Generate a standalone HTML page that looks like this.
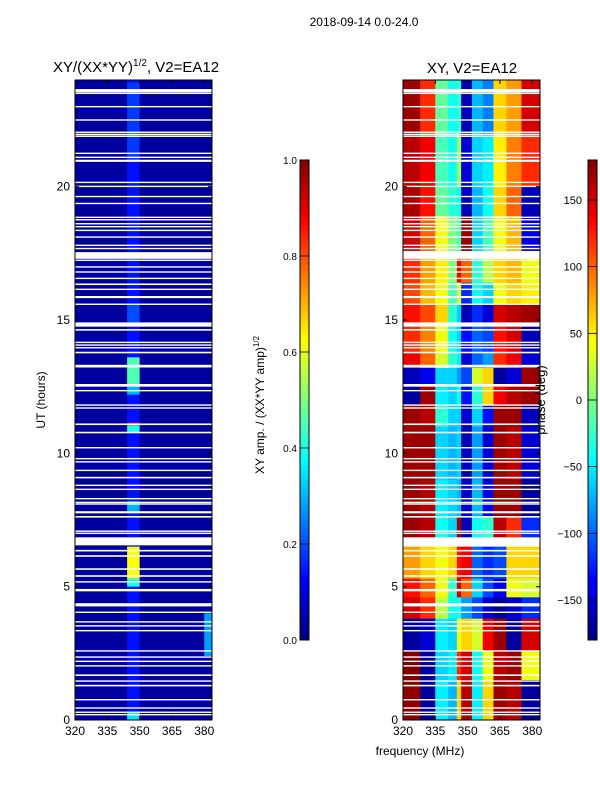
<!DOCTYPE html>
<html><head><meta charset="utf-8"><style>
body{margin:0;background:#fff;}
svg{display:block;font-family:"Liberation Sans",sans-serif;}
</style></head><body>
<svg id="chart" width="600" height="800"></svg>
<script>
// ---- data ----
const freqEdges=[320,328,335,341,345,347,352,357,362,368,375,383.6];
const ampSegments=[[0,24,0.14],[12.6,13.6,0.45],[12.2,12.6,0.3],[11.05,11.15,0.85],[10.8,11.05,0.4],[7.8,8.2,0.3],[5.3,6.5,0.62],[5.0,5.3,0.4],[0,0.3,0.35],[14.8,15.6,0.2],[21,23.9,0.18]];
const ampEdgeSegments=[[2.4,4.0,0.28]];
const ampBase=0.03;
const phaseSegments=[
[21.9,24,[170,120,-10,-40,-30,-160,-70,-90,60,80,150]],
[20.0,21.9,[160,140,-20,-40,10,-150,-60,-50,50,90,120]],
[18.9,20.0,[165,130,-10,-30,-40,-160,-70,-40,60,100,-160]],
[17.6,18.9,[150,100,40,0,-20,170,-60,-20,40,70,-140]],
[16.4,17.3,[120,80,50,0,140,100,-30,20,60,70,40]],
[15.6,16.4,[110,70,40,-20,30,-120,-40,-60,40,60,50]],
[14.8,15.6,[130,110,60,-30,-60,-160,-120,-150,150,160,170]],
[13.8,14.8,[120,90,40,-40,-60,-130,-100,-110,130,150,-160]],
[13.2,13.8,[140,100,30,-30,-50,-150,-100,-80,120,140,-150]],
[12.6,13.2,[-160,-140,-60,-60,-80,-110,30,60,-170,-150,170]],
[11.8,12.6,[-170,170,-50,-60,-40,-130,-30,60,140,160,170]],
[11.0,11.8,[170,160,-30,-60,-60,-150,-60,-130,170,170,-160]],
[9.0,11.0,[170,170,-60,-70,-60,-160,-80,-150,170,160,-150]],
[7.6,9.0,[170,160,-50,-60,-70,-150,-70,-140,170,170,-170]],
[6.8,7.6,[170,160,-40,-60,170,-160,-40,-30,160,120,-120]],
[5.3,6.5,[80,60,40,60,130,140,-100,-120,-110,60,60]],
[4.6,5.3,[130,100,40,-30,150,100,-60,-110,-140,40,30]],
[3.8,4.6,[150,120,20,-40,-40,-80,-110,-150,-170,-150,-120]],
[2.6,3.8,[-170,-150,-50,-60,40,60,30,140,170,-170,150]],
[1.5,2.6,[180,-170,-60,-50,120,150,-40,40,160,170,40]],
[0,1.5,[175,-170,-50,-70,60,160,-50,60,170,160,-170]]
];
const gaps=[[23.6,0.12],[23.5,0.05],[23.0,0.05],[22.5,0.05],[22.04,0.05],[21.96,0.05],[21.89,0.05],[21.25,0.05],[21.1,0.05],[20.97,0.08],[20.16,0.05],[20.01,0.05],[19.63,0.05],[19.37,0.05],[18.85,0.05],[18.76,0.05],[18.61,0.05],[18.5,0.05],[18.36,0.05],[18.11,0.05],[17.8,0.05],[17.68,0.05],[17.42,0.25],[17.24,0.05],[16.99,0.05],[16.8,0.05],[16.56,0.05],[16.34,0.06],[16.15,0.05],[15.86,0.08],[15.59,0.05],[14.83,0.16],[14.63,0.06],[14.16,0.05],[14.06,0.05],[13.96,0.05],[13.78,0.06],[13.27,0.1],[12.55,0.1],[12.35,0.05],[11.81,0.05],[11.7,0.05],[11.09,0.06],[10.78,0.06],[10.21,0.05],[9.8,0.05],[9.68,0.05],[9.36,0.05],[9.09,0.06],[8.8,0.05],[8.65,0.05],[8.3,0.05],[8.16,0.05],[8.1,0.05],[7.79,0.08],[7.62,0.06],[7.08,0.05],[7.0,0.05],[6.7,0.3],[6.35,0.06],[6.15,0.06],[5.66,0.06],[5.4,0.06],[5.18,0.05],[4.87,0.09],[4.32,0.12],[4.04,0.05],[3.68,0.05],[3.53,0.05],[3.35,0.05],[2.59,0.05],[2.36,0.05],[2.2,0.05],[2.03,0.05],[1.68,0.06],[1.46,0.05],[1.29,0.06],[0.76,0.05],[0.45,0.05],[0.29,0.05],[0.2,0.05]];
const yTicks=[0,5,10,15,20];
const xTicks=[320,335,350,365,380];
const ampTicks=[0.0,0.2,0.4,0.6,0.8,1.0];
const phaseTicks=[-150,-100,-50,0,50,100,150];

// ---- helpers ----
const NS="http://www.w3.org/2000/svg";
const svg=document.getElementById('chart');
function mk(tag,attrs,parent){const e=document.createElementNS(NS,tag);for(const k in attrs)e.setAttribute(k,attrs[k]);(parent||svg).appendChild(e);return e;}
function cl(v){return Math.max(0,Math.min(1,v));}
function jet(x){const r=cl(1.5-Math.abs(4*x-3)),g=cl(1.5-Math.abs(4*x-2)),b=cl(1.5-Math.abs(4*x-1));return `rgb(${Math.round(r*255)},${Math.round(g*255)},${Math.round(b*255)})`;}
const T=80,B=720,H=B-T;
function yH(h){return B-h/24*H;}
function xF(f,x0){return x0+(f-320)/(383.6-320)*137;}
const panels=[{x0:75,name:'amplitude-panel'},{x0:403,name:'phase-panel'}];

// left panel amplitude
{const g=mk('g',{});
const x0=75;
const bg=mk('rect',{x:x0,y:T,width:137,height:H,fill:jet(ampBase)},g);

ampSegments.forEach(s=>{const r=mk('rect',{x:xF(344.2,x0),y:yH(s[1]),width:xF(350,x0)-xF(344.2,x0),height:yH(s[0])-yH(s[1]),fill:jet(s[2])},g);
});
ampEdgeSegments.forEach(s=>{const r=mk('rect',{x:xF(380,x0),y:yH(s[1]),width:xF(383.6,x0)-xF(380,x0),height:yH(s[0])-yH(s[1]),fill:jet(s[2])},g);
});}

// right panel phase
{const g=mk('g',{});
const x0=403;
phaseSegments.forEach(s=>{for(let i=0;i<freqEdges.length-1;i++){const xa=xF(freqEdges[i],x0),xb=xF(freqEdges[i+1],x0);
const r=mk('rect',{x:xa,y:yH(s[1]),width:xb-xa+0.3,height:yH(s[0])-yH(s[1])+0.3,fill:jet((s[2][i]+180)/360)},g);
}});}

// gaps, frames, ticks
panels.forEach(p=>{
 gaps.forEach(gp=>{const h=Math.max(gp[1]/24*H,1.4);const r=mk('rect',{x:p.x0,y:yH(gp[0])-h/2,width:137,height:h,fill:'#fff'});
 });
 const f=mk('rect',{x:p.x0,y:T,width:137,height:H,fill:'none',stroke:'#000','stroke-width':1});
 
 yTicks.forEach(t=>{const y=yH(t);mk('line',{x1:p.x0,x2:p.x0+4,y1:y,y2:y,stroke:'#000'});mk('line',{x1:p.x0+137,x2:p.x0+133,y1:y,y2:y,stroke:'#000'});
  const tx=mk('text',{x:p.x0-5,y:y+4,'text-anchor':'end','font-size':12});tx.textContent=t;
  });
 xTicks.forEach(t=>{const x=xF(t,p.x0);mk('line',{x1:x,x2:x,y1:B,y2:B-4,stroke:'#000'});mk('line',{x1:x,x2:x,y1:T,y2:T+4,stroke:'#000'});
  const tx=mk('text',{x:x,y:B+15,'text-anchor':'middle','font-size':12});tx.textContent=t;
  });
});

// colorbars
function colorbar(x,name,ticks,toFrac){
 const g=mk('g',{});
 for(let i=0;i<96;i++){mk('rect',{x:x,y:640-(i+1)*5,width:9,height:5.3,fill:jet((i+0.5)/96)},g);}
 mk('rect',{x:x,y:160,width:9,height:480,fill:'none',stroke:'#000'},g);
 ticks.forEach(t=>{const y=640-toFrac(t)*480;mk('line',{x1:x,x2:x+9,y1:y,y2:y,stroke:'#000','stroke-width':0.8},g);
  const tx=mk('text',{x:x-3,y:y+4,'text-anchor':'end','font-size':10},g);
  tx.textContent=t.toFixed(1);
  });
}
colorbar(300,'amp-colorbar',ampTicks,t=>t);
(function(){const x=588;const g=mk('g',{});
 for(let i=0;i<96;i++){mk('rect',{x:x,y:640-(i+1)*5,width:9,height:5.3,fill:jet((i+0.5)/96)},g);}
 mk('rect',{x:x,y:160,width:9,height:480,fill:'none',stroke:'#000'},g);
 phaseTicks.forEach(t=>{const y=640-(t+180)/360*480;mk('line',{x1:x,x2:x+9,y1:y,y2:y,stroke:'#000','stroke-width':0.8},g);
  const tx=mk('text',{x:582,y:y+4,'text-anchor':'end','font-size':11},g);tx.textContent=t<0?'\u2212'+(-t):t;
  });})();

function txt(s,attrs,name){const t=mk('text',attrs);t.textContent=s;return t;}
txt('2018-09-14 0.0-24.0',{x:364,y:26,'text-anchor':'middle','font-size':12},'suptitle');
const t1=txt('XY/(XX*YY)',{x:53,y:72,'font-size':15},'left-title');
const sp=mk('tspan',{dy:-6,'font-size':10},t1);sp.textContent='1/2';
const sp2=mk('tspan',{dy:6},t1);sp2.textContent=', V2=EA12';
txt('XY, V2=EA12',{x:472,y:73,'text-anchor':'middle','font-size':15},'right-title');
txt('UT (hours)',{x:45,y:400,'text-anchor':'middle','font-size':12,transform:'rotate(-90 45 400)'},'y-axis-title');
const ca=txt('XY amp. / (XX*YY amp)',{x:264,y:405,'text-anchor':'middle','font-size':12,transform:'rotate(-90 264 405)'},'amp-colorbar-title');
const ct=mk('tspan',{dy:-5,'font-size':8},ca);ct.textContent='1/2';
txt('phase (deg)',{x:545,y:400,'text-anchor':'middle','font-size':13,transform:'rotate(-90 545 400)'},'phase-colorbar-title');
txt('frequency (MHz)',{x:420,y:755,'text-anchor':'middle','font-size':12},'x-axis-title');
</script>
</body></html>
